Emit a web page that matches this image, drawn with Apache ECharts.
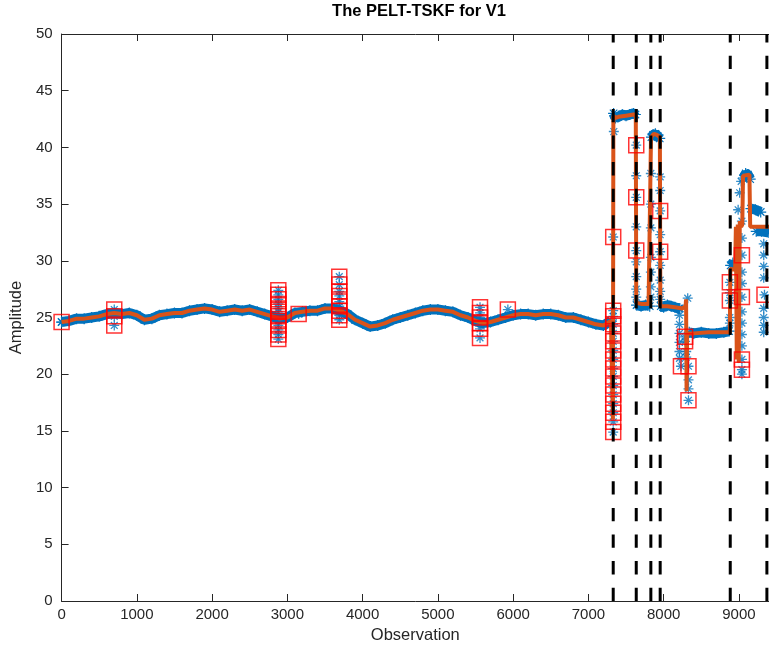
<!DOCTYPE html>
<html>
<head>
<meta charset="utf-8">
<script src="https://cdn.jsdelivr.net/npm/echarts@6/dist/echarts.min.js"></script>
<style>
html,body{margin:0;padding:0;background:#fff;}
#chart{width:769px;height:650px;}
</style>
</head>
<body>
<div id="chart"></div>
<script>
// ---- data ----
// Blue band (dense raw observations), '-' breaks the band at jumps
const bandX = [0,100,200,300,400,500,600,700,800,900,1000,1100,1200,1300,1400,1500,1600,1700,1800,1900,
  2000,2100,2200,2300,2400,2500,2600,2700,2800,2900,3000,3100,3200,3300,3400,3500,3600,3700,3800,3900,
  4000,4100,4200,4300,4400,4500,4600,4700,4800,4900,5000,5100,5200,5300,5400,5500,5600,5700,5800,5900,
  6000,6100,6200,6300,6400,6500,6600,6700,6800,6900,7000,7100,7200,7300,7310,
  7335,7360,7400,7450,7500,7550,7600,7625,7626,
  7640,7700,7760,7815,7816,
  7838,7860,7890,7920,7948,7949,
  7962,8000,8050,8100,8150,8200,8215,8216,
  8340,8400,8500,8600,8700,8800,8870,8871,
  8890,8920,8950,8951,
  9060,9090,9120,9150,9151,
  9160,9220,9290,9291,
  9230,9300,9400];
const bandY = [24.6,24.7,24.9,24.9,25.0,25.1,25.3,25.4,25.3,25.4,25.2,24.8,24.9,25.2,25.3,25.4,25.4,25.6,25.7,25.8,
  25.7,25.5,25.6,25.7,25.6,25.7,25.5,25.3,25.1,24.9,25.0,25.4,25.5,25.6,25.6,25.8,25.8,25.6,25.3,24.8,
  24.5,24.2,24.3,24.5,24.8,25.0,25.2,25.4,25.6,25.7,25.7,25.6,25.5,25.2,25.0,24.7,24.5,24.6,24.8,25.0,
  25.2,25.3,25.3,25.2,25.3,25.3,25.2,25.0,25.0,24.8,24.6,24.4,24.3,24.7,'-',
  43.0,42.6,42.7,42.9,42.8,42.9,43.0,42.9,'-',
  26.1,26.0,26.1,26.0,'-',
  40.9,41.1,41.2,41.0,40.8,'-',
  26.0,25.9,26.1,26.0,25.9,25.8,25.8,'-',
  23.7,23.6,23.7,23.6,23.6,23.7,23.8,'-',
  29.6,29.8,29.5,'-',
  37.3,37.7,37.6,37.2,'-',
  34.6,34.5,34.3,'-',
  32.6,32.6,32.5];

// Orange filtered estimate
const filtX = [0,100,200,300,400,500,600,700,800,900,1000,1100,1200,1300,1400,1500,1600,1700,1800,1900,
  2000,2100,2200,2300,2400,2500,2600,2700,2800,2900,3000,3100,3200,3300,3400,3500,3600,3700,3800,3900,
  4000,4100,4200,4300,4400,4500,4600,4700,4800,4900,5000,5100,5200,5300,5400,5500,5600,5700,5800,5900,
  6000,6100,6200,6300,6400,6500,6600,6700,6800,6900,7000,7100,7200,7300,
  7320,7326,7332,7360,7400,7500,7600,7630,7636,7700,7800,7826,7832,7870,7910,7950,7956,
  8050,8150,8250,8292,8298,8305,8312,8400,8600,8800,8880,8886,8950,8960,8972,8985,8998,9012,9030,9045,9055,9140,9150,9400];
const filtY = [24.6,24.7,24.9,24.9,25.0,25.1,25.3,25.4,25.3,25.4,25.2,24.8,24.9,25.2,25.3,25.4,25.4,25.6,25.7,25.8,
  25.7,25.5,25.6,25.7,25.6,25.7,25.5,25.3,25.1,24.9,25.0,25.4,25.5,25.6,25.6,25.8,25.8,25.6,25.3,24.8,
  24.5,24.2,24.3,24.5,24.8,25.0,25.2,25.4,25.6,25.7,25.7,25.6,25.5,25.2,25.0,24.7,24.5,24.6,24.8,25.0,
  25.2,25.3,25.3,25.2,25.3,25.3,25.2,25.0,25.0,24.8,24.6,24.4,24.3,24.7,
  24.8,16.0,42.8,42.6,42.7,42.8,42.9,42.9,26.3,26.2,26.2,26.2,40.9,41.2,41.1,40.9,26.0,
  26.0,25.9,25.8,26.0,26.6,18.5,23.6,23.6,23.7,23.7,23.7,29.3,29.2,33.0,21.3,33.2,21.0,33.5,33.0,33.2,37.5,37.6,33.0,33.0];

// Isolated blue asterisks (outlying raw observations)
const astX = [7338,7636,7636,7636,7636,7636,7636,7830,7830,7830,7830,7830,7830,7830,
  7954,7954,7954,7954,7954,7954,7954,8210,8210,8210,8210,8210,8210,8320,8300,8300,8330,8330,
  8880,8880,8880,9040,9040,9040,9040,9040,9040,9040,9040,9040,8990,9010,9030,
  9330,9330,9330,9330,9330,9330,9330,9330];
const astY = [41.4,37.5,33.0,29.9,28.6,27.5,26.8,37.7,35.0,32.9,30.3,29.0,27.7,26.8,
  37.4,36.2,32.3,29.6,28.3,27.3,26.6,25.2,24.4,23.6,22.8,22.0,21.4,26.7,22.0,21.5,19.5,18.7,
  25.0,24.5,27.2,33.5,32.0,29.0,28.0,25.5,24.5,23.5,22.5,20.0,34.5,36.0,37.0,
  31.5,30.5,29.5,28.5,25.8,25.0,24.3,23.7];

// Red squares: detected outliers
const sqX = [0,700,700,700,
  2880,2880,2880,2880,2880,2880,2880,2880,2880,2880,2880,2880,
  3150,3690,3690,3690,3690,3690,3690,3690,3690,3690,
  5560,5560,5560,5560,5560,5560,5930,
  7330,7330,7330,7330,7330,7330,7330,7330,7330,7330,7330,7330,7330,7330,7330,7330,
  7636,7636,7636,7954,7954,8285,8285,8230,8330,8330,
  8880,8880,9040,9040,9040,9040,9340];
const sqY = [24.6,25.7,25.1,24.3,
  27.4,27.0,26.6,26.2,25.8,25.5,25.1,24.7,24.3,23.9,23.5,23.1,
  25.3,28.6,27.9,27.3,26.9,26.4,26.0,25.6,25.2,24.8,
  25.9,25.4,25.0,24.5,24.0,23.2,25.7,
  32.1,25.6,25.1,24.4,23.6,22.9,22.1,21.3,20.5,19.8,19.0,18.2,17.4,16.6,15.8,14.9,
  40.2,35.6,30.9,34.4,30.8,23.3,22.9,20.7,20.7,17.7,
  28.1,26.5,30.5,26.8,21.3,20.4,27.0];

// Change points (dashed vertical lines)
const cpX = [7330,7636,7830,7954,8885,9372];

// x / y tick settings
const xMax = 9400, yMin = 0, yMax = 50, yStep = 5, xStep = 1000;

// ---- build chart ----
const zip = (xs, ys) => xs.map((x, i) => [x, ys[i]]);
const asterisk = 'path://M5,0L5,10M0,5L10,5M1.6,1.6L8.4,8.4M1.6,8.4L8.4,1.6';
const txt = '#262626';
const font = 'Liberation Sans, Arial, Helvetica, sans-serif';

const series = [
  {
    type: 'line', data: zip(bandX, bandY), connectNulls: false,
    showSymbol: true, symbol: asterisk, symbolSize: 11,
    itemStyle: { color: 'none', borderColor: '#0072BD', borderWidth: 1.2 },
    lineStyle: { color: '#0072BD', width: 10 }, z: 1, silent: true
  },
  {
    type: 'scatter', data: zip(astX, astY).concat(zip(sqX, sqY)), symbol: asterisk, symbolSize: 10,
    itemStyle: { color: 'none', borderColor: '#0072BD', borderWidth: 1.3 }, z: 2, silent: true
  },
  {
    type: 'line', data: zip(filtX, filtY), showSymbol: false,
    lineStyle: { color: '#D95319', width: 4 }, z: 3, silent: true
  },
  {
    type: 'scatter', data: zip(sqX, sqY), symbol: 'rect', symbolSize: 15,
    itemStyle: { color: 'none', borderColor: '#FF0000', borderWidth: 1.5 }, z: 4, silent: true
  }
];
cpX.forEach(x => {
  series.push({
    type: 'line', data: [[x, yMin], [x, yMax]], showSymbol: false,
    lineStyle: { color: '#000', width: 3, type: [13.3, 13.3] }, z: 5, silent: true
  });
});

const chart = echarts.init(document.getElementById('chart'), null, { renderer: 'canvas' });
chart.setOption({
  animation: false,
  backgroundColor: '#fff',
  title: {
    text: 'The PELT-TSKF for V1', left: 414, top: -2, textAlign: 'center',
    textStyle: { fontFamily: font, fontSize: 16.5, fontWeight: 'bold', color: '#000' }
  },
  grid: { left: 59.5, top: 34, right: 0, bottom: 49, containLabel: false },
  xAxis: [
    {
      type: 'value', min: 0, max: xMax, interval: xStep, position: 'bottom',
      name: 'Observation', nameLocation: 'middle', nameGap: 26,
      nameTextStyle: { fontFamily: font, fontSize: 16.5, color: txt },
      axisLine: { show: true, lineStyle: { color: txt, width: 1 } },
      axisTick: { show: true, inside: true, length: 7, lineStyle: { color: txt } },
      axisLabel: { fontFamily: font, fontSize: 15, color: txt, margin: 6, showMaxLabel: false,
        formatter: v => String(v) },
      splitLine: { show: false }
    },
    {
      type: 'value', min: 0, max: xMax, interval: xStep, position: 'top',
      axisLine: { show: true, lineStyle: { color: txt, width: 1 } },
      axisTick: { show: true, inside: true, length: 7, lineStyle: { color: txt } },
      axisLabel: { show: false }, splitLine: { show: false }
    }
  ],
  yAxis: {
    type: 'value', min: yMin, max: yMax, interval: yStep,
    name: 'Amplitude', nameLocation: 'middle', nameGap: 33, nameRotate: 90,
    nameTextStyle: { fontFamily: font, fontSize: 16.5, color: txt },
    axisLine: { show: true, lineStyle: { color: txt, width: 1 } },
    axisTick: { show: true, inside: true, length: 7, lineStyle: { color: txt } },
    axisLabel: { fontFamily: font, fontSize: 15, color: txt, margin: 9, formatter: v => String(v) },
    splitLine: { show: false }
  },
  series: series
});
</script>
</body>
</html>
